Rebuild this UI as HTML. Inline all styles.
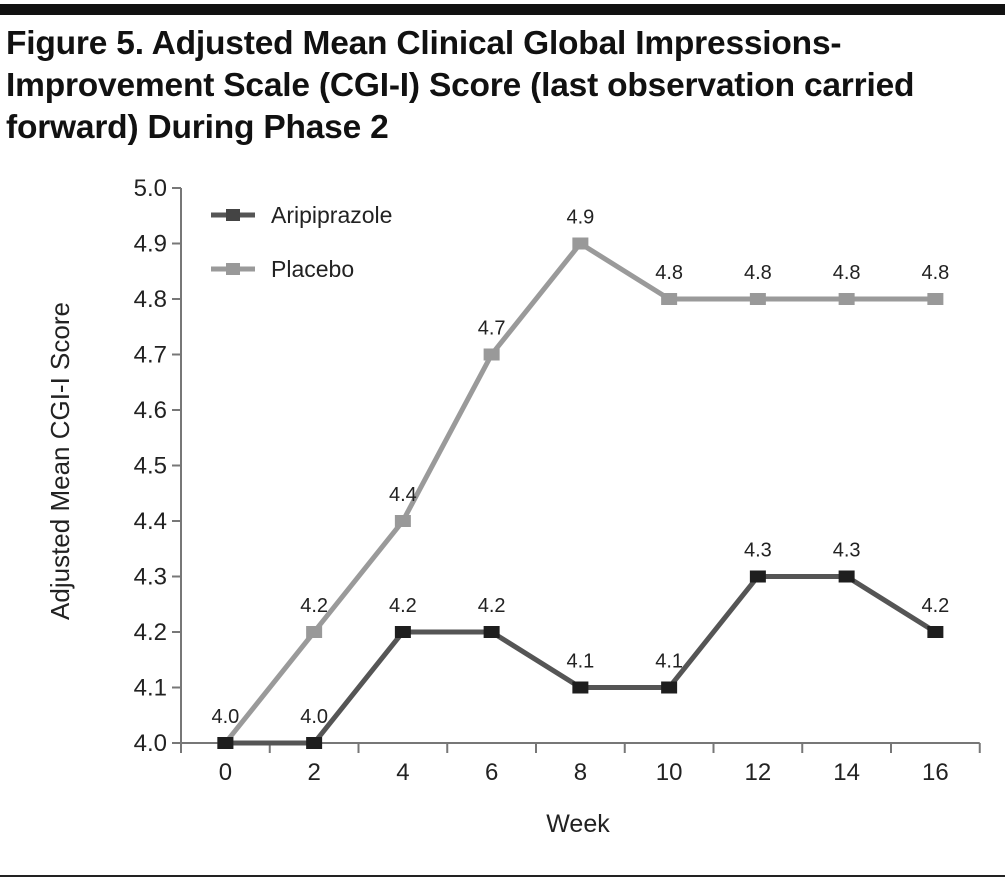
<!DOCTYPE html>
<html><head><meta charset="utf-8"><style>
html,body{margin:0;padding:0;background:#fff;}
body{width:1005px;height:880px;position:relative;overflow:hidden;font-family:"Liberation Sans",sans-serif;}
#topbar{position:absolute;left:0;top:4px;width:1005px;height:11px;background:#111;}
#title{position:absolute;left:6px;top:23px;font-size:33.5px;font-weight:bold;line-height:42px;color:#111;letter-spacing:-0.2px;white-space:nowrap;}
#botline{position:absolute;left:0;top:875px;width:1005px;height:2px;background:#222;}
svg{position:absolute;left:0;top:0;}
text{font-family:"Liberation Sans",sans-serif;fill:#222;}
</style></head><body>
<div id="topbar"></div>
<div id="title">Figure 5. Adjusted Mean Clinical Global Impressions-<br>Improvement Scale (CGI-I) Score (last observation carried<br>forward) During Phase 2</div>
<div id="botline"></div>
<svg id="chart" width="1005" height="880"></svg>
<script>
const weeks=[0,2,4,6,8,10,12,14,16];
const aripiprazole=[4.0,4.0,4.2,4.2,4.1,4.1,4.3,4.3,4.2];
const placebo=[4.0,4.2,4.4,4.7,4.9,4.8,4.8,4.8,4.8];
const placeboLabels=["4.0","4.2","4.4","4.7","4.9","4.8","4.8","4.8","4.8"];
const aripLabels=["","4.0","4.2","4.2","4.1","4.1","4.3","4.3","4.2"];
const yTicks=[4.0,4.1,4.2,4.3,4.4,4.5,4.6,4.7,4.8,4.9,5.0];

const NS="http://www.w3.org/2000/svg";
const svg=document.getElementById('chart');
const x0=181,step=88.75,yMin=4.0,yMax=5.0,yTop=188,yBot=743;
function xs(i){return x0+step*(i+0.5);}
function ys(v){return yBot-(v-yMin)/(yMax-yMin)*(yBot-yTop);}
function mk(tag,attrs){const e=document.createElementNS(NS,tag);for(const k in attrs)e.setAttribute(k,attrs[k]);svg.appendChild(e);return e;}

let ax=mk('line',{x1:x0,y1:yTop,x2:x0,y2:yBot,stroke:'#777','stroke-width':2});


yTicks.forEach(v=>{
  const t=mk('line',{x1:x0-9,y1:ys(v),x2:x0,y2:ys(v),stroke:'#777','stroke-width':2});
  
  
  const l=mk('text',{x:x0-14,y:ys(v)+8,'text-anchor':'end','font-size':24});
  l.textContent=v.toFixed(1);
  
  
});
let xa=mk('line',{x1:x0,y1:yBot,x2:x0+step*weeks.length,y2:yBot,stroke:'#777','stroke-width':2});


for(let i=0;i<=weeks.length;i++){
  const t=mk('line',{x1:x0+step*i,y1:yBot,x2:x0+step*i,y2:yBot+10,stroke:'#777','stroke-width':2});
  
  
}
weeks.forEach((w,i)=>{
  const l=mk('text',{x:xs(i),y:yBot+37,'text-anchor':'middle','font-size':24});
  l.textContent=w;
  
  
});
let xt=mk('text',{x:578,y:832,'text-anchor':'middle','font-size':25});
xt.textContent='Week';


let yt=mk('text',{x:0,y:0,'text-anchor':'middle','font-size':26,transform:'translate(69,461) rotate(-90)'});
yt.textContent='Adjusted Mean CGI-I Score';



function series(vals,labels,lineColor,markColor,name){
  const pts=vals.map((v,i)=>xs(i)+','+ys(v)).join(' ');
  const p=mk('polyline',{points:pts,fill:'none',stroke:lineColor,'stroke-width':5});
  
  
  vals.forEach((v,i)=>{
    const r=mk('rect',{x:xs(i)-8,y:ys(v)-6,width:16,height:12,fill:markColor});
    
    
    if(labels[i]){
      const t=mk('text',{x:xs(i),y:ys(v)-20,'text-anchor':'middle','font-size':20});
      t.textContent=labels[i];
      
      
    }
  });
}
series(placebo,placeboLabels,'#9a9a9a','#999','placebo');
series(aripiprazole,aripLabels,'#555','#1e1e1e','aripiprazole');

function legend(y,color,mark,label,name){
  const l=mk('line',{x1:211,y1:y,x2:255,y2:y,stroke:color,'stroke-width':5});
  
  
  const r=mk('rect',{x:226,y:y-6,width:14,height:12,fill:mark});
  
  
  const t=mk('text',{x:271,y:y+8,'font-size':23});
  t.textContent=label;
  
  
}
legend(215,'#555','#444','Aripiprazole','aripiprazole');
legend(269,'#9a9a9a','#999','Placebo','placebo');
</script>
</body></html>
